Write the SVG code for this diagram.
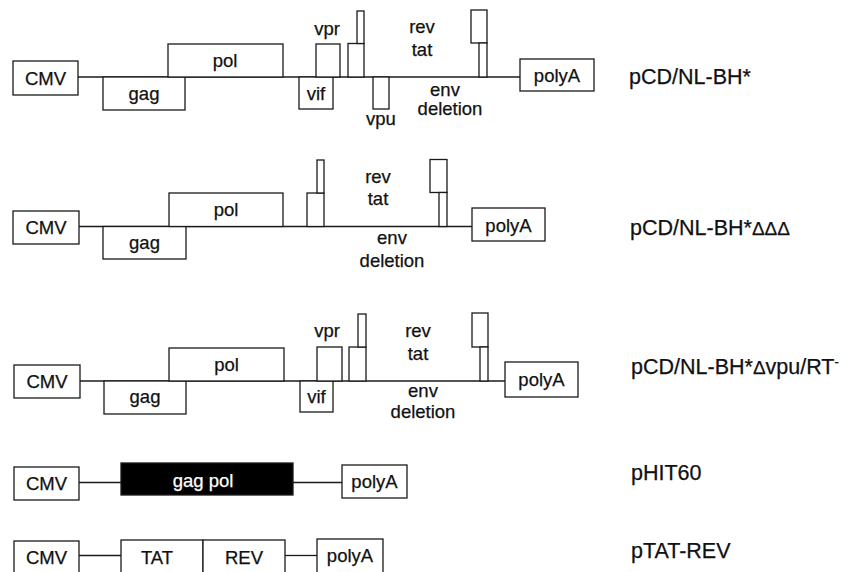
<svg xmlns="http://www.w3.org/2000/svg" width="846" height="572" viewBox="0 0 846 572">
<style>
rect{fill:#fff;stroke:#1a1a1a;stroke-width:1.3}
rect.blk{fill:#000}
line{stroke:#1a1a1a;stroke-width:1.3}
text{font-family:"Liberation Sans",Arial,sans-serif;fill:#111;stroke:#111;stroke-width:0.25;text-anchor:middle;font-size:18.5px}
text.nm{text-anchor:start;font-size:21.5px}
text.wh{fill:#fff;stroke:#fff}
tspan.d{font-size:19px}
</style>
<rect x="0" y="0" width="846" height="572" style="fill:#fff;stroke:none"/>
<g id="connectors">
<line x1="78" y1="77" x2="520" y2="77"/>
<line x1="79" y1="226.5" x2="472" y2="226.5"/>
<line x1="80" y1="381" x2="505" y2="381"/>
<line x1="79" y1="482.5" x2="342" y2="482.5"/>
<line x1="79" y1="555.5" x2="121" y2="555.5"/>
<line x1="285" y1="555.5" x2="317" y2="555.5"/>
</g>
<!-- Row 1 -->
<g id="r1-cmv"><rect x="13" y="61" width="65" height="34"/><text x="45.5" y="84.5">CMV</text></g>
<g id="r1-gag"><rect x="103" y="77" width="82" height="33"/><text x="144" y="100">gag</text></g>
<g id="r1-pol"><rect x="168" y="44" width="115" height="33"/><text x="225" y="67">pol</text></g>
<g id="r1-vif"><rect x="299" y="77" width="34" height="32"/><text x="316" y="99.5">vif</text></g>
<g id="r1-vpr"><rect x="316" y="44" width="24" height="33"/><text x="327" y="35">vpr</text></g>
<g id="r1-tatrev1"><rect x="348" y="43.5" width="16" height="33.5"/><rect x="357" y="11" width="7" height="32.5"/></g>
<g id="r1-vpu"><rect x="373" y="77" width="16" height="32"/><text x="381" y="125">vpu</text></g>
<g id="r1-revtat"><text x="422" y="33">rev</text><text x="422" y="56">tat</text></g>
<g id="r1-env"><text x="445" y="96">env</text><text x="450" y="115">deletion</text></g>
<g id="r1-tatrev2"><rect x="471" y="10" width="16" height="33"/><rect x="479" y="43" width="8" height="34"/></g>
<g id="r1-polyA"><rect x="520" y="59" width="74" height="32"/><text x="557" y="82">polyA</text></g>
<g id="r1-name"><text class="nm" x="629" y="84">pCD/NL-BH*</text></g>
<!-- Row 2 -->
<g id="r2-cmv"><rect x="13" y="211" width="66" height="33"/><text x="46" y="234">CMV</text></g>
<g id="r2-gag"><rect x="103" y="226.5" width="83" height="32.5"/><text x="144.5" y="249">gag</text></g>
<g id="r2-pol"><rect x="169" y="193" width="114" height="33.5"/><text x="226" y="216">pol</text></g>
<g id="r2-tatrev1"><rect x="307" y="193" width="17" height="33.5"/><rect x="317" y="160" width="7" height="33"/></g>
<g id="r2-revtat"><text x="378" y="183">rev</text><text x="378" y="205">tat</text></g>
<g id="r2-env"><text x="392" y="244">env</text><text x="392" y="267">deletion</text></g>
<g id="r2-tatrev2"><rect x="430" y="159.5" width="17" height="33"/><rect x="439" y="192.5" width="8" height="34"/></g>
<g id="r2-polyA"><rect x="472" y="208" width="73" height="33"/><text x="508.5" y="232">polyA</text></g>
<g id="r2-name"><text class="nm" x="630" y="235">pCD/NL-BH*<tspan class="d">ΔΔΔ</tspan></text></g>
<!-- Row 3 -->
<g id="r3-cmv"><rect x="14" y="365" width="66" height="33"/><text x="47" y="388">CMV</text></g>
<g id="r3-gag"><rect x="104" y="381" width="82" height="33"/><text x="145" y="403">gag</text></g>
<g id="r3-pol"><rect x="169" y="348" width="115" height="33"/><text x="226.5" y="371">pol</text></g>
<g id="r3-vif"><rect x="300" y="381" width="33" height="31"/><text x="316.5" y="403">vif</text></g>
<g id="r3-vpr"><rect x="317" y="347" width="25" height="34"/><text x="327" y="337">vpr</text></g>
<g id="r3-tatrev1"><rect x="349" y="347" width="17" height="34"/><rect x="358" y="314" width="8" height="33"/></g>
<g id="r3-revtat"><text x="418" y="337">rev</text><text x="418" y="360">tat</text></g>
<g id="r3-env"><text x="423" y="397">env</text><text x="423" y="418">deletion</text></g>
<g id="r3-tatrev2"><rect x="472" y="313" width="16" height="34"/><rect x="480" y="347" width="8" height="34"/></g>
<g id="r3-polyA"><rect x="505" y="362" width="73" height="35"/><text x="541.5" y="386">polyA</text></g>
<g id="r3-name"><text class="nm" x="631" y="374">pCD/NL-BH*<tspan class="d">Δ</tspan>vpu/RT<tspan font-size="13" dy="-8">-</tspan></text></g>
<!-- Row 4 -->
<g id="r4-cmv"><rect x="14" y="467" width="65" height="33"/><text x="46.5" y="490">CMV</text></g>
<g id="r4-gagpol"><rect class="blk" x="121" y="463" width="172" height="32"/><text class="wh" x="203" y="486.5">gag pol</text></g>
<g id="r4-polyA"><rect x="342" y="465" width="65" height="33"/><text x="374.5" y="488">polyA</text></g>
<g id="r4-name"><text class="nm" x="631" y="480">pHIT60</text></g>
<!-- Row 5 -->
<g id="r5-cmv"><rect x="14" y="541" width="65" height="40"/><text x="46.5" y="563.5">CMV</text></g>
<g id="r5-tat"><rect x="121" y="540" width="82" height="40"/><text x="157" y="563.5">TAT</text></g>
<g id="r5-rev"><rect x="203" y="540" width="82" height="40"/><text x="244" y="563.5">REV</text></g>
<g id="r5-polyA"><rect x="317" y="539" width="66" height="40"/><text x="350" y="562">polyA</text></g>
<g id="r5-name"><text class="nm" x="631" y="558">pTAT-REV</text></g>
</svg>
